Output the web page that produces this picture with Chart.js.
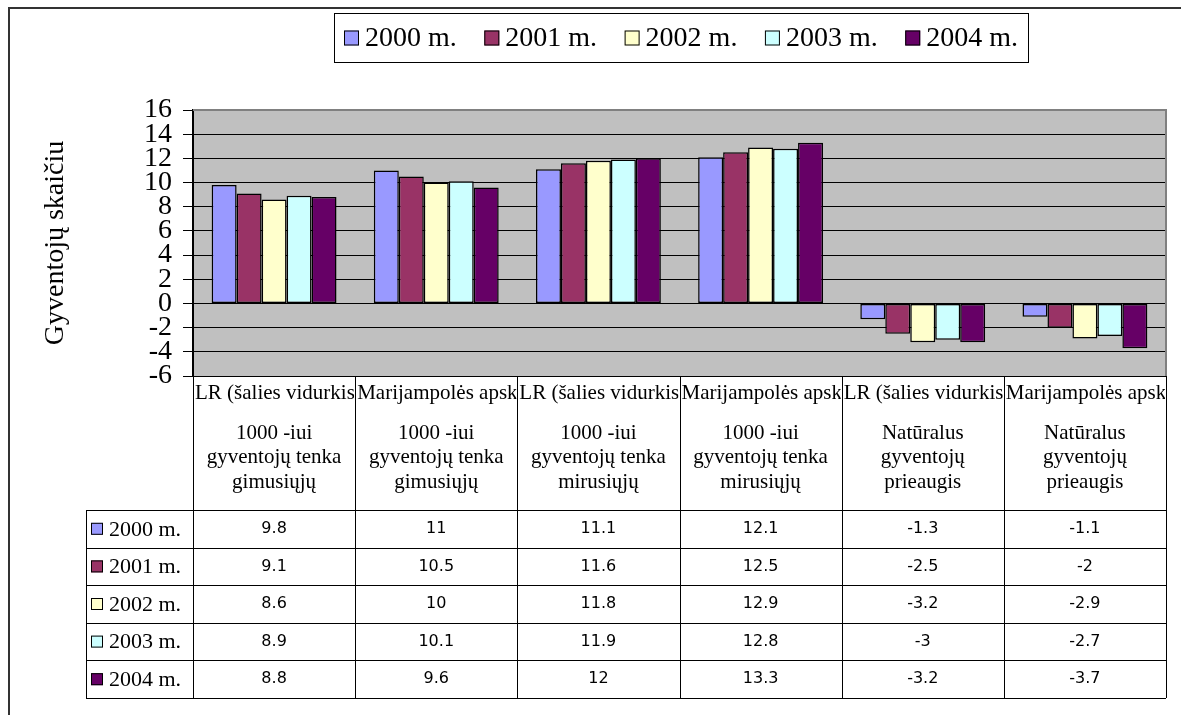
<!DOCTYPE html>
<html>
<head>
<meta charset="utf-8">
<script src="https://cdn.jsdelivr.net/npm/chart.js@4.4.1/dist/chart.umd.min.js"></script>
<style>
html,body{margin:0;padding:0;background:#fff}
canvas{display:block}
</style>
</head>
<body>
<canvas id="chart" width="1181" height="715"></canvas>
<script>
const groups = ["LR (šalies vidurkis)","Marijampolės apskritis","LR (šalies vidurkis)","Marijampolės apskritis","LR (šalies vidurkis)","Marijampolės apskritis"];
const indicators = [
  ["1000 -iui","gyventojų tenka","gimusiųjų"],
  ["1000 -iui","gyventojų tenka","gimusiųjų"],
  ["1000 -iui","gyventojų tenka","mirusiųjų"],
  ["1000 -iui","gyventojų tenka","mirusiųjų"],
  ["Natūralus","gyventojų","prieaugis"],
  ["Natūralus","gyventojų","prieaugis"]
];
const years = ["2000 m.","2001 m.","2002 m.","2003 m.","2004 m."];
const v2000 = [9.8, 11, 11.1, 12.1, -1.3, -1.1];
const v2001 = [9.1, 10.5, 11.6, 12.5, -2.5, -2];
const v2002 = [8.6, 10, 11.8, 12.9, -3.2, -2.9];
const v2003 = [8.9, 10.1, 11.9, 12.8, -3, -2.7];
const v2004 = [8.8, 9.6, 12, 13.3, -3.2, -3.7];
const series = [v2000, v2001, v2002, v2003, v2004];
const colors = ["#9999FF","#993366","#FFFFCC","#CCFFFF","#660066"];

const SERIF = "'Liberation Serif', 'Times New Roman', serif";
const SANS = "'DejaVu Sans', sans-serif";

// header block height and data row height under the plot
const HEAD_H = 134, ROW_H = 37.6, LABEL_LEFT = 86;

const tableAndFrame = {
  id: "tableAndFrame",
  beforeDraw(chart){
    const {ctx, chartArea:a} = chart;
    ctx.save();
    ctx.fillStyle = "#C0C0C0";
    ctx.fillRect(a.left, a.top, a.right - a.left, a.bottom - a.top);
    // outer frame
    ctx.strokeStyle = "#333";
    ctx.lineWidth = 2;
    ctx.beginPath();
    ctx.moveTo(9, 715); ctx.lineTo(9, 8); ctx.lineTo(1181, 8);
    ctx.stroke();
    ctx.restore();
  },
  afterDraw(chart){
    const {ctx, chartArea:a} = chart;
    const xs = chart.scales.x;
    const n = chart.data.labels.length;
    const colW = (a.right - a.left) / n;
    const colLeft = i => xs.getPixelForValue(i) - colW / 2;
    const ds = chart.data.datasets;
    const top = a.bottom, headBot = top + HEAD_H, bot = headBot + ROW_H * ds.length;

    ctx.save();
    // plot border top/right
    ctx.strokeStyle = "#808080";
    ctx.lineWidth = 2;
    ctx.beginPath();
    ctx.moveTo(a.left, a.top); ctx.lineTo(a.right, a.top); ctx.lineTo(a.right, a.bottom);
    ctx.stroke();

    // table lines
    ctx.strokeStyle = "#000";
    ctx.lineWidth = 1;
    ctx.beginPath();
    for (let i = 0; i <= n; i++){
      const x = Math.round(a.left + i * colW) + 0.5;
      ctx.moveTo(x, top); ctx.lineTo(x, bot);
    }
    ctx.moveTo(LABEL_LEFT + 0.5, headBot); ctx.lineTo(LABEL_LEFT + 0.5, bot);
    for (let r = 0; r <= ds.length; r++){
      const y = Math.round(headBot + r * ROW_H) + 0.5;
      ctx.moveTo(LABEL_LEFT, y); ctx.lineTo(a.right, y);
    }
    ctx.stroke();

    // header text
    ctx.fillStyle = "#000";
    ctx.textBaseline = "middle";
    for (let i = 0; i < n; i++){
      const l = colLeft(i);
      ctx.save();
      ctx.beginPath();
      ctx.rect(l + 1, top, colW - 2, HEAD_H);
      ctx.clip();
      ctx.font = "21px " + SERIF;
      ctx.textAlign = "left";
      ctx.fillText(groups[i], l + 2, top + 17);
      ctx.restore();
      ctx.textAlign = "center";
      ctx.font = "21px " + SERIF;
      indicators[i].forEach((t, k) => ctx.fillText(t, xs.getPixelForValue(i), top + 57 + k * 24.5));
    }

    // data rows
    ds.forEach((d, r) => {
      const yc = headBot + r * ROW_H + ROW_H / 2;
      ctx.fillStyle = d.backgroundColor;
      ctx.fillRect(91, yc - 6, 12, 12);
      ctx.strokeStyle = "#000";
      ctx.lineWidth = 1;
      ctx.strokeRect(91.5, yc - 5.5, 11, 11);
      ctx.fillStyle = "#000";
      ctx.textAlign = "left";
      ctx.font = "22px " + SERIF;
      ctx.fillText(d.label, 109, yc + 1);
      ctx.textAlign = "center";
      ctx.font = "16px " + SANS;
      d.data.forEach((v, i) => ctx.fillText(String(v), xs.getPixelForValue(i), yc));
    });

    // legend box
    ctx.font = "28px " + SERIF;
    const box = 15, gapT = 6, pad = 10;
    const boxL = 334, boxR = 1028, boxT = 13, boxB = 62;
    const widths = ds.map(d => box + gapT + ctx.measureText(d.label).width);
    const sum = widths.reduce((s, w) => s + w, 0);
    const gap = (boxR - boxL - 2 * pad - sum) / (ds.length - 1);
    ctx.strokeStyle = "#000";
    ctx.lineWidth = 1;
    ctx.strokeRect(boxL + 0.5, boxT + 0.5, boxR - boxL, boxB - boxT);
    let x = boxL + pad;
    const ly = (boxT + boxB) / 2 + 1;
    ds.forEach((d, i) => {
      ctx.fillStyle = d.backgroundColor;
      ctx.fillRect(x, ly - 8, box, box);
      ctx.strokeRect(x + 0.5, ly - 7.5, box - 1, box - 1);
      ctx.fillStyle = "#000";
      ctx.textAlign = "left";
      ctx.fillText(d.label, x + box + gapT, ly);
      x += widths[i] + gap;
    });
    ctx.restore();
  }
};

new Chart(document.getElementById("chart"), {
  type: "bar",
  data: {
    labels: groups,
    datasets: years.map((y, i) => ({
      label: y,
      data: series[i],
      backgroundColor: colors[i],
      borderColor: "#000",
      borderWidth: 1.5,
      borderSkipped: false,
      categoryPercentage: 0.77,
      barPercentage: 1
    }))
  },
  options: {
    responsive: false,
    animation: false,
    layout: {padding: {left: 9, top: 110, right: 15, bottom: 339}},
    plugins: {legend: {display: false}, tooltip: {enabled: false}},
    scales: {
      x: {display: false},
      y: {
        min: -6, max: 16,
        ticks: {stepSize: 2, autoSkip: false, color: "#000", padding: 11,
          font: {family: SERIF, size: 28, lineHeight: 1}},
        grid: {color: c => c.tick && c.tick.value === 16 ? "#808080" : "#000",
          lineWidth: 1, tickLength: 10, tickColor: "#000"},
        border: {color: "#000", width: 2},
        title: {display: true, text: "Gyventojų skaičiu", color: "#000",
          font: {family: SERIF, size: 28}, padding: {top: 30, bottom: 0}},
        afterFit(s){ s.width = 184; }
      }
    }
  },
  plugins: [tableAndFrame]
});
</script>
</body>
</html>
